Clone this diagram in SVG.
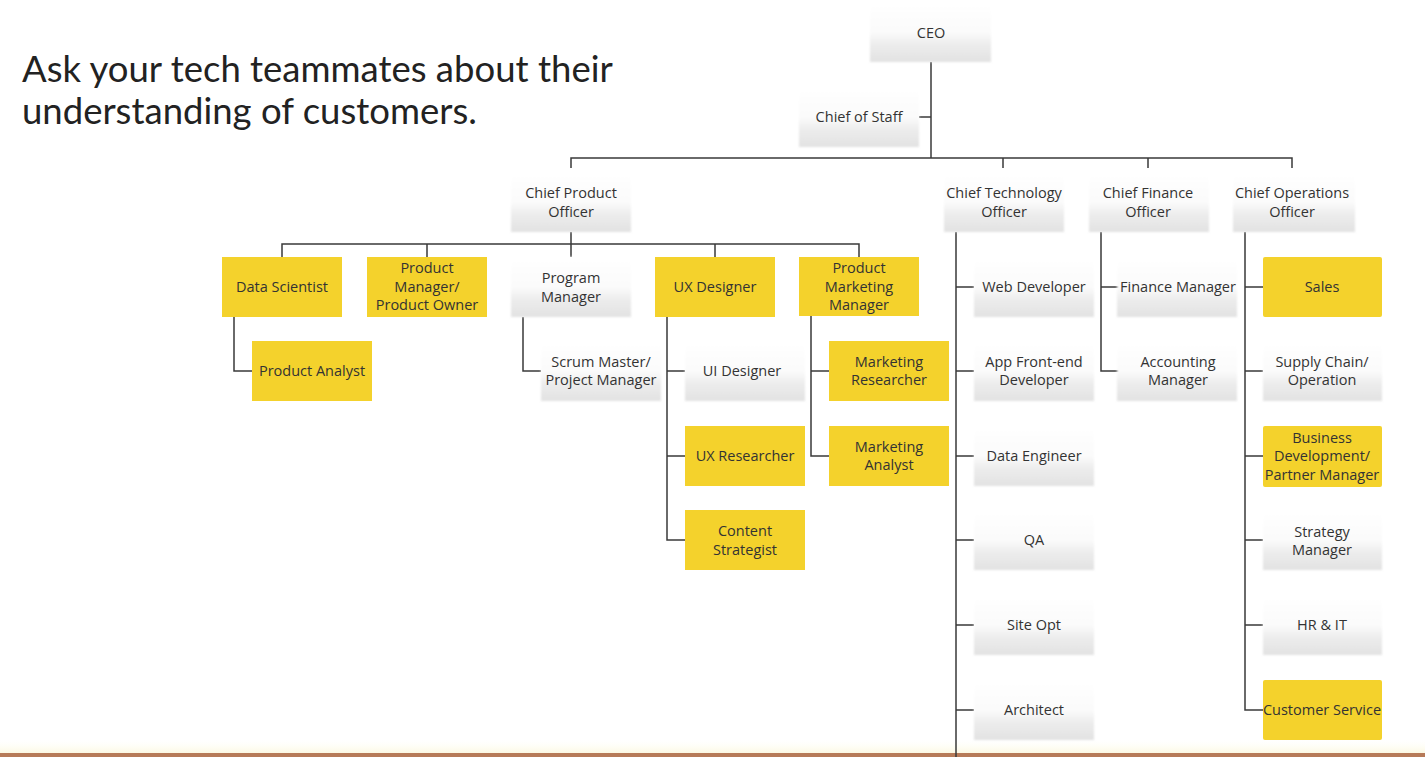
<svg xmlns="http://www.w3.org/2000/svg" width="1425" height="757" viewBox="0 0 1425 757">
  <defs>
    <linearGradient id="shade" x1="0" y1="0" x2="0" y2="1">
      <stop offset="0" stop-color="#ffffff"/>
      <stop offset="0.5" stop-color="#fbfbfb"/>
      <stop offset="0.72" stop-color="#ececec"/>
      <stop offset="1" stop-color="#e2e2e2"/>
    </linearGradient>
    <linearGradient id="foot" x1="0" y1="0" x2="0" y2="1">
      <stop offset="0" stop-color="#fffff6" stop-opacity="0"/>
      <stop offset="1" stop-color="#fbf8e2"/>
    </linearGradient>
    <filter id="soft" x="-5%" y="-10%" width="110%" height="120%">
      <feGaussianBlur stdDeviation="1.2"/>
    </filter>
  </defs>
  <style>
    .w { fill: url(#shade); filter: url(#soft); }
    .y { fill: #f4d22c; }
    .t { font-family: "Open Sans", "Liberation Sans", Arial, sans-serif; font-size: 14.5px; fill: #333333; text-anchor: middle; }
    .title { font-family: Lato, "Liberation Sans", Arial, sans-serif; font-size: 36.5px; fill: #222222; }
    .c { stroke: #3a3a3a; stroke-width: 1.5; fill: none; }
  </style>

  <rect width="1425" height="757" fill="#ffffff"/>
  <rect x="0" y="740" width="1425" height="13" fill="url(#foot)"/>
  <rect x="0" y="753" width="1425" height="4" fill="#b67a58"/>

  <text class="title" x="22" y="82">Ask your tech teammates about their</text>
  <text class="title" x="22" y="124">understanding of customers.</text>

  <!-- connectors -->
  <g id="connectors" class="c">
    <path d="M931 62 V158"/>
    <path d="M919 117 H931"/>
    <path d="M571 168 V158 H1292 V168 M1003 158 V168 M1148 158 V168"/>
    <path d="M571 232 V257 M282 257 V244 H859 V257 M427 244 V257 M715 244 V257"/>
    <path d="M234 317 V371 H252"/>
    <path d="M523 317 V371 H541"/>
    <path d="M667 317 V540 H685 M667 371 H685 M667 456 H685"/>
    <path d="M811 316 V456 H829 M811 371 H829"/>
    <path d="M956 232 V757 M956 287 H974 M956 371 H974 M956 456 H974 M956 540 H974 M956 625 H974 M956 710 H974"/>
    <path d="M1101 232 V371 H1119 M1101 287 H1119"/>
    <path d="M1245 232 V710 H1263 M1245 287 H1263 M1245 371 H1263 M1245 456 H1263 M1245 540 H1263 M1245 625 H1263"/>
  </g>

  <g id="ceo"><rect class="w" x="870" y="2" width="121" height="60"/><text class="t" x="931" y="38">CEO</text></g>
  <g id="chief-of-staff"><rect class="w" x="799" y="87" width="120" height="60"/><text class="t" x="859" y="122">Chief of Staff</text></g>

  <g id="cpo"><rect class="w" x="511" y="172" width="120" height="60"/><text class="t" x="571" y="198">Chief Product</text><text class="t" x="571" y="217">Officer</text></g>
  <g id="cto"><rect class="w" x="944" y="172" width="120" height="60"/><text class="t" x="1004" y="198">Chief Technology</text><text class="t" x="1004" y="217">Officer</text></g>
  <g id="cfo"><rect class="w" x="1089" y="172" width="120" height="60"/><text class="t" x="1148" y="198">Chief Finance</text><text class="t" x="1148" y="217">Officer</text></g>
  <g id="coo"><rect class="w" x="1233" y="172" width="122" height="60"/><text class="t" x="1292" y="198">Chief Operations</text><text class="t" x="1292" y="217">Officer</text></g>

  <!-- product organisation -->
  <g id="data-scientist"><rect class="y" x="222" y="257" width="120" height="60"/><text class="t" x="282" y="292">Data Scientist</text></g>
  <g id="product-manager"><rect class="y" x="367" y="257" width="120" height="60"/><text class="t" x="427" y="273">Product</text><text class="t" x="427" y="292">Manager/</text><text class="t" x="427" y="310">Product Owner</text></g>
  <g id="program-manager"><rect class="w" x="511" y="257" width="120" height="60"/><text class="t" x="571" y="283">Program</text><text class="t" x="571" y="302">Manager</text></g>
  <g id="ux-designer"><rect class="y" x="655" y="257" width="120" height="60"/><text class="t" x="715" y="292">UX Designer</text></g>
  <g id="product-marketing-manager"><rect class="y" x="799" y="257" width="120" height="59"/><text class="t" x="859" y="273">Product</text><text class="t" x="859" y="292">Marketing</text><text class="t" x="859" y="310">Manager</text></g>

  <g id="product-analyst"><rect class="y" x="252" y="341" width="120" height="60"/><text class="t" x="312" y="376">Product Analyst</text></g>
  <g id="scrum-master"><rect class="w" x="541" y="341" width="120" height="60"/><text class="t" x="601" y="367">Scrum Master/</text><text class="t" x="601" y="385">Project Manager</text></g>
  <g id="ui-designer"><rect class="w" x="685" y="341" width="120" height="60"/><text class="t" x="742" y="376">UI Designer</text></g>
  <g id="ux-researcher"><rect class="y" x="685" y="426" width="120" height="60"/><text class="t" x="745" y="461">UX Researcher</text></g>
  <g id="content-strategist"><rect class="y" x="685" y="510" width="120" height="60"/><text class="t" x="745" y="536">Content</text><text class="t" x="745" y="555">Strategist</text></g>
  <g id="marketing-researcher"><rect class="y" x="829" y="341" width="120" height="60"/><text class="t" x="889" y="367">Marketing</text><text class="t" x="889" y="385">Researcher</text></g>
  <g id="marketing-analyst"><rect class="y" x="829" y="426" width="120" height="60"/><text class="t" x="889" y="452">Marketing</text><text class="t" x="889" y="470">Analyst</text></g>

  <!-- technology -->
  <g id="web-developer"><rect class="w" x="974" y="257" width="120" height="60"/><text class="t" x="1034" y="292">Web Developer</text></g>
  <g id="app-developer"><rect class="w" x="974" y="341" width="120" height="60"/><text class="t" x="1034" y="367">App Front-end</text><text class="t" x="1034" y="385">Developer</text></g>
  <g id="data-engineer"><rect class="w" x="974" y="426" width="120" height="60"/><text class="t" x="1034" y="461">Data Engineer</text></g>
  <g id="qa"><rect class="w" x="974" y="510" width="120" height="60"/><text class="t" x="1034" y="545">QA</text></g>
  <g id="site-opt"><rect class="w" x="974" y="595" width="120" height="60"/><text class="t" x="1034" y="630">Site Opt</text></g>
  <g id="architect"><rect class="w" x="974" y="680" width="120" height="60"/><text class="t" x="1034" y="715">Architect</text></g>

  <!-- finance -->
  <g id="finance-manager"><rect class="w" x="1117" y="257" width="120" height="60"/><text class="t" x="1178" y="292">Finance Manager</text></g>
  <g id="accounting-manager"><rect class="w" x="1117" y="341" width="120" height="60"/><text class="t" x="1178" y="367">Accounting</text><text class="t" x="1178" y="385">Manager</text></g>

  <!-- operations -->
  <g id="sales"><rect class="y" x="1263" y="257" width="119" height="60" rx="2"/><text class="t" x="1322" y="292">Sales</text></g>
  <g id="supply-chain"><rect class="w" x="1263" y="341" width="119" height="60"/><text class="t" x="1322" y="367">Supply Chain/</text><text class="t" x="1322" y="385">Operation</text></g>
  <g id="business-development"><rect class="y" x="1263" y="426" width="119" height="61" rx="2"/><text class="t" x="1322" y="443">Business</text><text class="t" x="1322" y="461">Development/</text><text class="t" x="1322" y="480">Partner Manager</text></g>
  <g id="strategy-manager"><rect class="w" x="1263" y="510" width="119" height="60"/><text class="t" x="1322" y="537">Strategy</text><text class="t" x="1322" y="555">Manager</text></g>
  <g id="hr-it"><rect class="w" x="1263" y="595" width="119" height="60"/><text class="t" x="1322" y="630">HR &amp; IT</text></g>
  <g id="customer-service"><rect class="y" x="1263" y="680" width="119" height="60" rx="2"/><text class="t" x="1322" y="715">Customer Service</text></g>
</svg>
